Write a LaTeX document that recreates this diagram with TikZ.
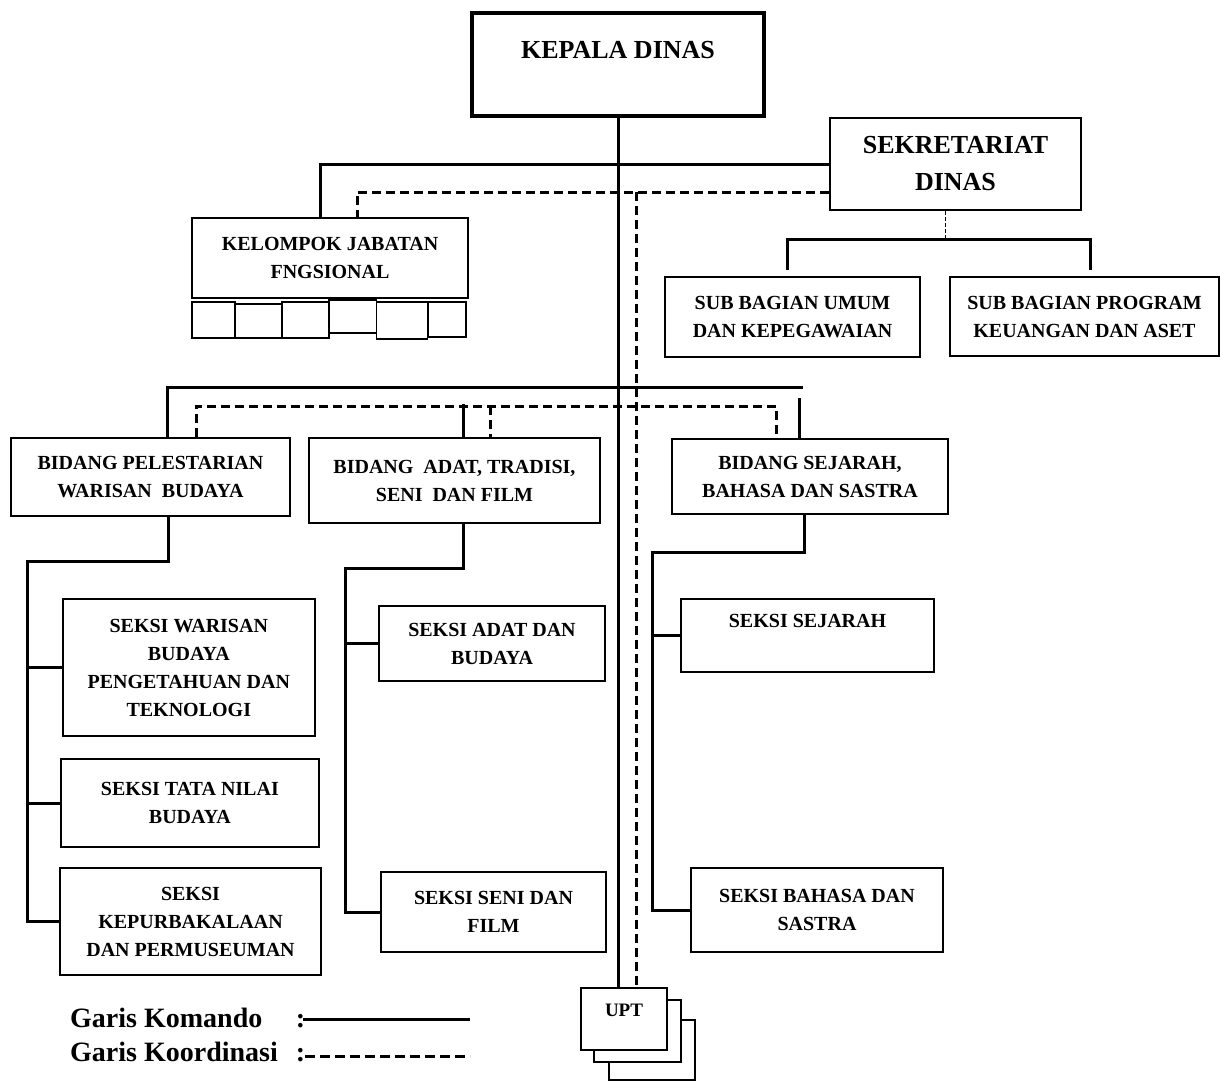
\documentclass[tikz,border=0pt]{standalone}
\usepackage{fontspec}
\setmainfont{Liberation Serif}
\usepackage{tikz}

\begin{document}
\begin{tikzpicture}[x=1pt, y=-1pt,
  orgbox/.style={draw, fill=white, line width=1.6pt, align=center, inner sep=0pt,
    font=\fontsize{20}{28}\selectfont\bfseries},
  headbox/.style={orgbox, font=\fontsize{26}{37}\selectfont\bfseries},
  cellbox/.style={draw, line width=1.6pt, inner sep=0pt},
  cmdline/.style={line width=3pt},
  crdline/.style={line width=3pt, dash pattern=on 9pt off 5pt},
  legtext/.style={inner sep=0pt, anchor=base west,
    font=\fontsize{28}{32}\selectfont\bfseries}
]
\useasboundingbox (0,0) rectangle (1221,1081);

% ===================== Pimpinan =====================
    \node[headbox, line width=3.2pt, minimum width=292pt, minimum height=103pt, text depth=30pt] (kepala) at (618,64.5) {KEPALA DINAS};
    \node[headbox, minimum width=251pt, minimum height=92pt] (sekr) at (955.5,164) {SEKRETARIAT\\DINAS};

    % Kelompok jabatan fungsional
    \node[orgbox, minimum width=276pt, minimum height=80pt] (kjf) at (330,258) {KELOMPOK JABATAN\\FNGSIONAL};
    \node[cellbox, minimum width=43pt, minimum height=36pt] (kf1) at (213.2,319.9) {};
    \node[cellbox, minimum width=47pt, minimum height=34pt] (kf2) at (258.3,320.9) {};
    \node[cellbox, minimum width=47pt, minimum height=36pt] (kf3) at (305.2,320) {};
    \node[cellbox, minimum width=48pt, minimum height=33pt] (kf4) at (352.5,316.5) {};
    \node[cellbox, minimum width=51pt, minimum height=37pt] (kf5) at (402,320.5) {};
    \node[cellbox, minimum width=38pt, minimum height=35pt] (kf6) at (446.9,319.4) {};

    % Sub bagian
    \node[orgbox, minimum width=255pt, minimum height=80pt] (sbu) at (792.5,317) {SUB BAGIAN UMUM\\DAN KEPEGAWAIAN};
    \node[orgbox, minimum width=269pt, minimum height=79pt] (sbp) at (1084.5,316.5) {SUB BAGIAN PROGRAM\\KEUANGAN DAN ASET};

% ===================== Bidang =====================
    \node[orgbox, minimum width=279pt, minimum height=78pt] (bp) at (150.5,477) {BIDANG PELESTARIAN\\WARISAN\ \ BUDAYA};
    \node[orgbox, minimum width=291pt, minimum height=85pt] (ba) at (454.5,480.5) {BIDANG\ \ ADAT, TRADISI,\\SENI\ \ DAN FILM};
    \node[orgbox, minimum width=276pt, minimum height=75pt] (bs) at (810,476.5) {BIDANG SEJARAH,\\BAHASA DAN SASTRA};

% ===================== Seksi =====================
    \node[orgbox, minimum width=252pt, minimum height=137pt] (swb) at (188.8,667.5) {SEKSI WARISAN\\BUDAYA\\PENGETAHUAN DAN\\TEKNOLOGI};
    \node[orgbox, minimum width=258pt, minimum height=88pt] (stn) at (189.9,803) {SEKSI TATA NILAI\\BUDAYA};
    \node[orgbox, minimum width=261pt, minimum height=107pt] (skp) at (190.5,921.5) {SEKSI\\KEPURBAKALAAN\\DAN PERMUSEUMAN};

    \node[orgbox, minimum width=226pt, minimum height=75pt] (sab) at (492,643.5) {SEKSI ADAT DAN\\BUDAYA};
    \node[orgbox, minimum width=225pt, minimum height=80pt] (ssf) at (493.5,912) {SEKSI SENI DAN\\FILM};

    \node[orgbox, minimum width=253pt, minimum height=73pt, text depth=29pt] (ssj) at (807.5,635.5) {SEKSI SEJARAH};
    \node[orgbox, minimum width=252pt, minimum height=84pt] (sbs) at (817,910) {SEKSI BAHASA DAN\\SASTRA};

% ===================== UPT =====================
    \node[cellbox, fill=white, minimum width=86pt, minimum height=60pt] (upt3) at (652,1050) {};
    \node[cellbox, fill=white, minimum width=87pt, minimum height=62pt] (upt2) at (637.5,1031) {};
    \node[orgbox, font=\fontsize{19}{24}\selectfont\bfseries, minimum width=86pt, minimum height=62pt, text depth=18pt] (upt) at (624,1019) {UPT};

% ===================== Garis =====================
    % Komando dari kepala dinas
    \draw[cmdline] (kepala.south) -- (kepala.south |- upt.north);
    \draw[cmdline] (sekr.west) -| ([xshift=-10pt]kjf.north);

    % Koordinasi
    \coordinate (crdTop) at (636,192);
    \draw[crdline] ([yshift=-28pt]sekr.west) -| ([xshift=27pt]kjf.north);
    \draw[crdline] (crdTop) -- (crdTop |- upt.north);

    % Sekretariat ke sub bagian
    \coordinate (sekrBus) at (945,239);
    \draw[line width=1pt, dash pattern=on 4pt off 2pt] ([xshift=-10.5pt]sekr.south) -- (sekrBus);
    \draw[cmdline] ([xshift=-5.5pt,yshift=6pt]sbu.north) |- (sekrBus) -| ([xshift=5.5pt,yshift=6pt]sbp.north);

    % Bidang
    \coordinate (bidBusR) at (803,387);
    \coordinate (bsCmd) at (799,398);
    \coordinate (baCmd) at (463,404);
    \draw[cmdline] ([xshift=16.5pt]bp.north) |- (bidBusR);
    \draw[cmdline] (bsCmd) -- (bsCmd |- bs.north);
    \draw[cmdline] (baCmd) -- (baCmd |- ba.north);

    \coordinate (bidCrdL) at (196,406);
    \coordinate (bidCrdR) at (776,406);
    \coordinate (baCrd) at (490,406);
    \draw[crdline] (bidCrdL |- bp.north) -- (bidCrdL) -- (bidCrdR) -- (bidCrdR |- bs.north);
    \draw[crdline] (baCrd) -- (baCrd |- ba.north);

    % Seksi bidang pelestarian
    \coordinate (lBus) at (27,561);
    \draw[cmdline] ([xshift=18pt]bp.south) |- (lBus) |- (skp.west);
    \draw[cmdline] (lBus |- swb.west) -- (swb.west);
    \draw[cmdline] (lBus |- stn.west) -- (stn.west);

    % Seksi bidang adat
    \coordinate (mBus) at (345,568);
    \draw[cmdline] ([xshift=8.5pt]ba.south) |- (mBus) |- (ssf.west);
    \draw[cmdline] (mBus |- sab.west) -- (sab.west);

    % Seksi bidang sejarah
    \coordinate (rBus) at (652,552);
    \draw[cmdline] ([xshift=-6pt]bs.south) |- (rBus) |- (sbs.west);
    \draw[cmdline] (rBus |- ssj.west) -- (ssj.west);

% ===================== Keterangan =====================
    \node[legtext] (lgKom) at (70,1027) {\makebox[235pt][l]{Garis Komando\hfill:}};
    \node[legtext] (lgKoo) at (70,1061) {\makebox[235pt][l]{Garis Koordinasi\hfill:}};
    \coordinate (lgA) at (303,1019); \coordinate (lgB) at (470,1019);
    \coordinate (lgC) at (305,1056); \coordinate (lgD) at (470,1056);
    \draw[cmdline] (lgA) -- (lgB);
    \draw[crdline, dash pattern=on 10pt off 5pt] (lgC) -- (lgD);

\end{tikzpicture}
\end{document}
